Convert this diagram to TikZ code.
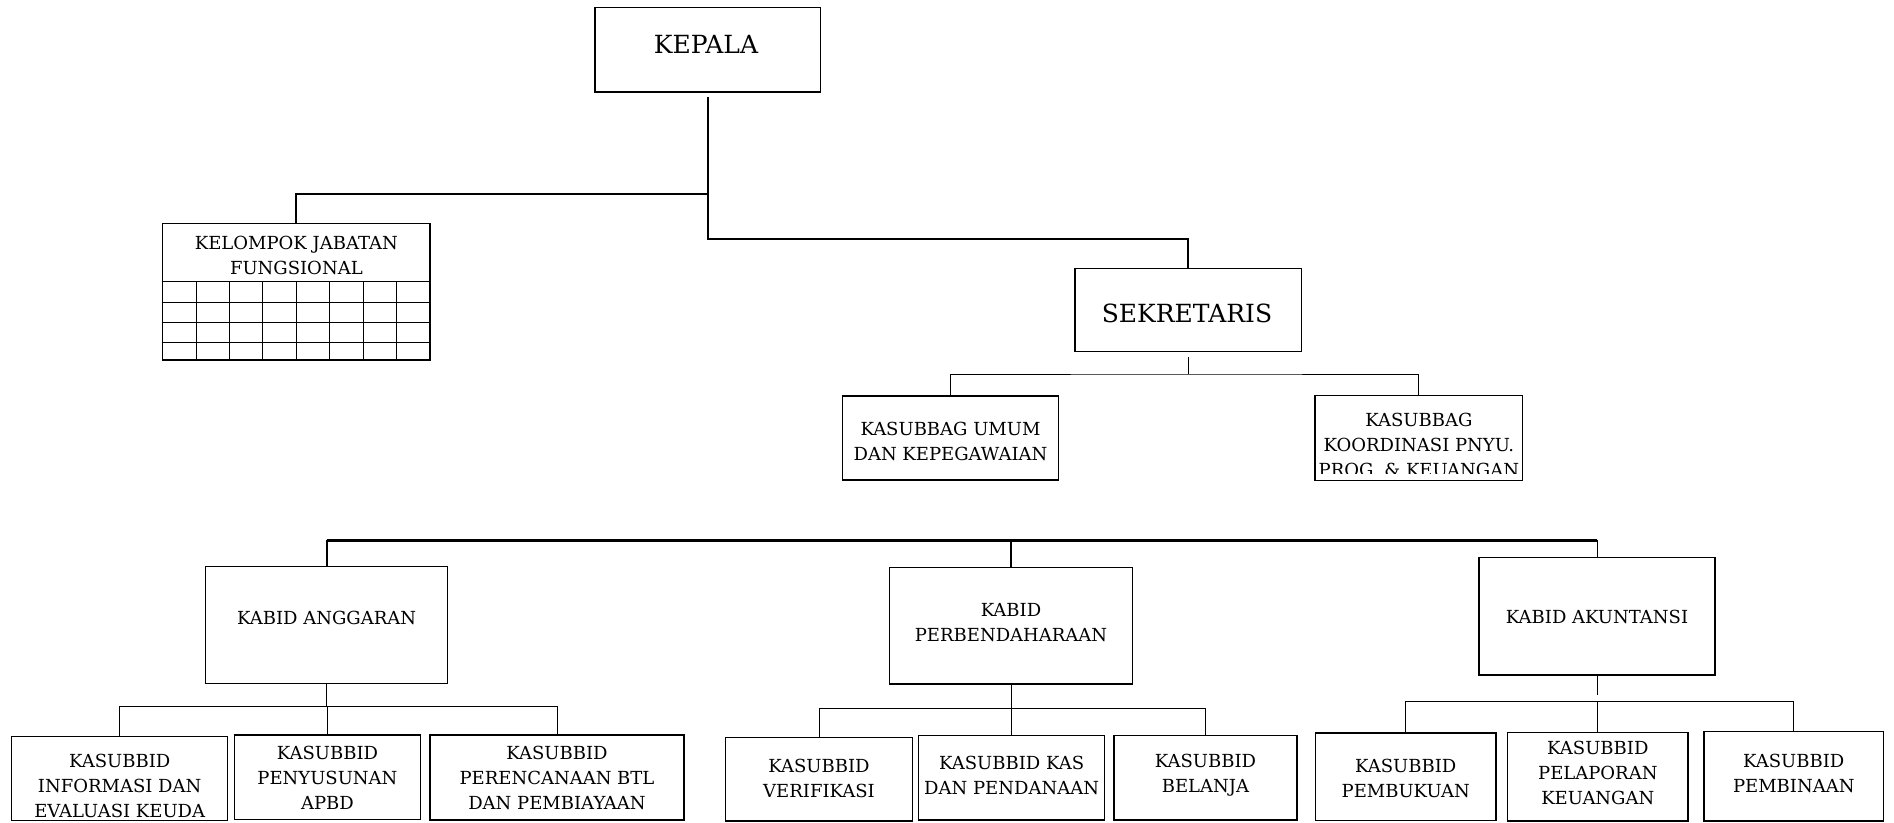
\documentclass[tikz,border=0pt]{standalone}
\usepackage{fontspec}
\setmainfont{DejaVu Serif}
\newcommand\bigf{\fontsize{25}{30}\selectfont}
\newcommand\smf{\fontsize{18}{25}\selectfont}
\tikzset{
  box/.style={draw, line width=1.3pt, inner sep=0pt},
  txt/.style={font=\smf, align=center, inner sep=0pt},
  btxt/.style={font=\bigf, align=center, inner sep=0pt},
  main/.style={line width=2pt},
  sub/.style={line width=1pt},
  busline/.style={line width=3pt},
  gridline/.style={line width=1pt},
}
\begin{document}
\begin{tikzpicture}[x=1pt,y=-1pt]
\clip (0,0) rectangle (1894,822);
\fill[white] (0,0) rectangle (1894,822);

% ---------- top level ----------
\node[box, minimum width=225.7pt, minimum height=84.7pt] (kepala) at (707.85,49.65) {};
\node[btxt] (tkepala) at (706,44) {KEPALA};

\node[box, minimum width=267.3pt, minimum height=136.7pt] (kjf) at (296.35,291.65) {};
\node[txt] (tkjf) at (296.35,255.8) {KELOMPOK JABATAN\\FUNGSIONAL};
\draw[gridline] (162.7,281.7) -- (430,281.7);
\foreach \yy in {302.7,322.7,342.7} \draw[gridline] (162.7,\yy) -- (430,\yy);
\foreach \k in {1,...,7} \draw[gridline] ({162.7+33.41*\k},281.7) -- ({162.7+33.41*\k},360);

\node[box, minimum width=226.7pt, minimum height=83.4pt] (sek) at (1188.35,310) {};
\node[btxt] (tsek) at (1187,313.3) {SEKRETARIS};

\node[box, minimum width=215.6pt, minimum height=84pt] (umum) at (950.5,438) {};
\node[txt] (tumum) at (950.5,441.3) {KASUBBAG UMUM\\DAN KEPEGAWAIAN};

\node[box, minimum width=207.7pt, minimum height=85pt] (koord) at (1418.85,438.2) {};
\begin{scope}
  \clip (koord.north west) rectangle ([yshift=8pt]koord.south east);
  \node[txt] (tkoord) at (1418.85,445) {KASUBBAG\\KOORDINASI PNYU.\\PROG. \& KEUANGAN};
\end{scope}

% connectors of the top part
\coordinate (j1) at (707.85,193.5);
\coordinate (j2) at (707.85,239);
\draw[main, shorten <=4pt] (kepala.south) -- (j2) -| (sek.north);
\draw[main] (j1) -| (kjf.north);

\coordinate (s1) at (1188.35,374);
\draw[sub, shorten <=5pt] (sek.south) -- (s1);
\draw[sub] (umum.north) |- (s1) -| (koord.north);

% ---------- kabid level ----------
\node[box, minimum width=242.4pt, minimum height=116.6pt] (kang) at (326.6,625) {};
\node[txt] (tkang) at (326.6,618) {KABID ANGGARAN};

\node[box, minimum width=242.4pt, minimum height=116.7pt] (kper) at (1011,625.65) {};
\node[txt] (tkper) at (1011,622.4) {KABID\\PERBENDAHARAAN};

\node[box, minimum width=236pt, minimum height=117.7pt] (kak) at (1597,616.15) {};
\node[txt] (tkak) at (1597,616.7) {KABID AKUNTANSI};

\coordinate (bus) at (0,540);
\draw[busline] (kang.north |- bus) -- (kak.north |- bus);
\draw[main] (kang.north) -- (kang.north |- bus);
\draw[main] (kper.north) -- (kper.north |- bus);
\draw[sub] (kak.north) -- (kak.north |- bus);

% ---------- kasubbid anggaran ----------
\node[box, minimum width=216pt, minimum height=83.8pt] (b1) at (119.7,778.6) {};
\node[txt] (tb1) at (119.7,786) {KASUBBID\\INFORMASI DAN\\EVALUASI KEUDA};
\node[box, minimum width=186.1pt, minimum height=84.5pt] (b2) at (327.45,777.25) {};
\node[txt] (tb2) at (327.45,778) {KASUBBID\\PENYUSUNAN\\APBD};
\node[box, minimum width=254pt, minimum height=85pt] (b3) at (557,777.5) {};
\node[txt] (tb3) at (557,778) {KASUBBID\\PERENCANAAN BTL\\DAN PEMBIAYAAN};

\coordinate (a1) at (326.6,706);
\draw[sub] (kang.south) -- (a1);
\draw[sub] (b1.north) |- (a1) -| (b3.north);
\draw[sub] (b2.north) -- (b2.north |- a1);

% ---------- kasubbid perbendaharaan ----------
\node[box, minimum width=186.6pt, minimum height=83.7pt] (b4) at (819,779.15) {};
\node[txt] (tb4) at (819,778.8) {KASUBBID\\VERIFIKASI};
\node[box, minimum width=185.8pt, minimum height=84.3pt] (b5) at (1011.6,777.85) {};
\node[txt] (tb5) at (1011.6,775.3) {KASUBBID KAS\\DAN PENDANAAN};
\node[box, minimum width=183pt, minimum height=84.3pt] (b6) at (1205.5,777.85) {};
\node[txt] (tb6) at (1205.5,775) {KASUBBID\\BELANJA};

\coordinate (a2) at (1011,708.3);
\draw[sub] (kper.south) -- (a2);
\draw[sub] (b4.north) |- (a2) -| (b6.north);
\draw[sub] (b5.north) -- (b5.north |- a2);

% ---------- kasubbid akuntansi ----------
\node[box, minimum width=180.5pt, minimum height=87.5pt] (b7) at (1405.75,776.75) {};
\node[txt] (tb7) at (1405.75,778.3) {KASUBBID\\PEMBUKUAN};
\node[box, minimum width=180.4pt, minimum height=88.8pt] (b8) at (1597.8,776.6) {};
\node[txt] (tb8) at (1597.8,773.3) {KASUBBID\\PELAPORAN\\KEUANGAN};
\node[box, minimum width=179.5pt, minimum height=89.5pt] (b9) at (1793.75,776.25) {};
\node[txt] (tb9) at (1793.75,773.8) {KASUBBID\\PEMBINAAN};

\coordinate (a3) at (1597,695);
\coordinate (a4) at (1597.8,701);
\draw[sub] (kak.south) -- (a3);
\draw[sub] (b7.north) |- (a4) -| (b9.north);
\draw[sub] (b8.north) -- (a4);
\end{tikzpicture}
\end{document}
